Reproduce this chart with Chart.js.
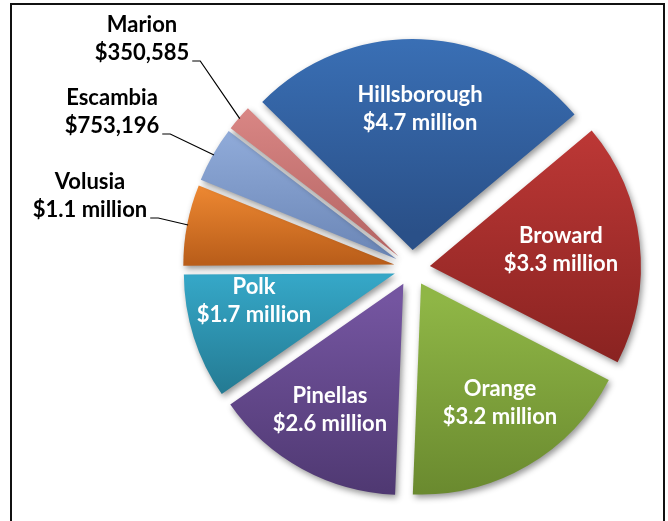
<!DOCTYPE html>
<html>
<head>
<meta charset="utf-8">
<script src="https://cdn.jsdelivr.net/npm/chart.js@4.4.1/dist/chart.umd.min.js"></script>
<style>
  html, body { margin: 0; padding: 0; background: #ffffff; }
  #wrap { width: 668px; height: 521px; position: relative; }
</style>
</head>
<body>
<div id="wrap"><canvas id="chart"></canvas></div>
<script>
// County totals (dollars)
const counties = ['Hillsborough', 'Broward', 'Orange', 'Pinellas', 'Polk', 'Volusia', 'Escambia', 'Marion'];
const amounts = [4700000, 3300000, 3200000, 2600000, 1700000, 1100000, 753196, 350585];
const amountLabels = ['$4.7 million', '$3.3 million', '$3.2 million', '$2.6 million', '$1.7 million', '$1.1 million', '$753,196', '$350,585'];

// Slice fills: lighter at the top, darker at the bottom
const topColors = ['#3b72b9', '#bd3836', '#8fb646', '#7455a0', '#35a6c6', '#f08a33', '#93aedc', '#dc8987'];
const bottomColors = ['#2a5088', '#8a2321', '#67862d', '#4c366e', '#237890', '#ba5e1a', '#6d88b8', '#b66665'];

// Pie geometry and label layout
const ROTATION = -45.5;      // degrees, start of first slice measured from 12 o'clock
const RADIUS = 211;
const EXPLODE = 18;          // px each slice is pulled away from the centre
const LABEL_FONT = 'bold 22px Lato, "Open Sans", sans-serif';
const LINE_GAP = 28;
// in-slice labels: distance from the slice tip (share of radius) and turn off the bisector (deg)
const insideDepth = [0.669, 0.626, 0.677, 0.692, 0.68];
const insideTurn = [0.7, -0.8, -3.25, 1.5, 6.5];
const calloutBlocks = { 5: [90, 182], 6: [112, 98], 7: [142, 25] }; // centre x, first line y

// Every slice is drawn shifted outward along its bisector
const ArcEl = (Chart.elements && Chart.elements.ArcElement) || Chart.ArcElement;
const baseArcDraw = ArcEl.prototype.draw;
ArcEl.prototype.draw = function (ctx) {
  const mid = (this.startAngle + this.endAngle) / 2;
  ctx.save();
  ctx.translate(Math.cos(mid) * EXPLODE, Math.sin(mid) * EXPLODE);
  baseArcDraw.call(this, ctx);
  ctx.restore();
};

const total = amounts.reduce((a, b) => a + b, 0);
function sliceAngles(i) {
  let before = 0;
  for (let k = 0; k < i; k++) before += amounts[k];
  const start = (ROTATION - 90) * Math.PI / 180 + before / total * 2 * Math.PI;
  const end = start + amounts[i] / total * 2 * Math.PI;
  return { start, end, mid: (start + end) / 2 };
}

// Vertical gradient spanning the slice's own height
function sliceFill(c) {
  const i = c.dataIndex;
  const chart = c.chart;
  const area = chart.chartArea;
  if (!area) return topColors[i];
  const cy = (area.top + area.bottom) / 2;
  const { start, end, mid } = sliceAngles(i);
  const oy = cy + Math.sin(mid) * EXPLODE;
  let minY = oy, maxY = oy;
  for (let s = 0; s <= 60; s++) {
    const a = start + (end - start) * s / 60;
    const y = oy + Math.sin(a) * RADIUS;
    minY = Math.min(minY, y);
    maxY = Math.max(maxY, y);
  }
  const g = chart.ctx.createLinearGradient(0, minY, 0, maxY);
  g.addColorStop(0, topColors[i]);
  g.addColorStop(1, bottomColors[i]);
  return g;
}

const frame = {
  id: 'frame',
  beforeDraw(chart) {
    const ctx = chart.ctx;
    ctx.save();
    ctx.fillStyle = '#ffffff';
    ctx.fillRect(0, 0, chart.width, chart.height);
    ctx.strokeStyle = '#111111';
    ctx.lineWidth = 2;
    ctx.strokeRect(11, 4, 653, 600);
    ctx.restore();
  }
};

const sliceShadow = {
  id: 'sliceShadow',
  beforeDatasetsDraw(chart) {
    const ctx = chart.ctx;
    ctx.save();
    ctx.shadowColor = 'rgba(0,0,0,0.42)';
    ctx.shadowBlur = 6;
    ctx.shadowOffsetX = 2;
    ctx.shadowOffsetY = 3;
  },
  afterDatasetsDraw(chart) {
    chart.ctx.restore();
  }
};

const sliceLabels = {
  id: 'sliceLabels',
  afterDatasetsDraw(chart) {
    const ctx = chart.ctx;
    const arcs = chart.getDatasetMeta(0).data;
    ctx.save();
    ctx.font = LABEL_FONT;
    ctx.textAlign = 'center';
    ctx.textBaseline = 'middle';
    arcs.forEach((arc, i) => {
      const mid = (arc.startAngle + arc.endAngle) / 2;
      const dx = Math.cos(mid), dy = Math.sin(mid);
      if (i < 5) {
        const tipX = arc.x + dx * EXPLODE, tipY = arc.y + dy * EXPLODE;
        const a = mid + insideTurn[i] * Math.PI / 180;
        const d = insideDepth[i] * arc.outerRadius;
        const x = tipX + Math.cos(a) * d, y = tipY + Math.sin(a) * d;
        ctx.fillStyle = '#ffffff';
        ctx.fillText(counties[i], x, y - LINE_GAP / 2);
        ctx.fillText(amountLabels[i], x, y + LINE_GAP / 2);
      } else {
        const [bx, by] = calloutBlocks[i];
        ctx.fillStyle = '#000000';
        ctx.fillText(counties[i], bx, by);
        ctx.fillText(amountLabels[i], bx, by + LINE_GAP);
        const right = bx + ctx.measureText(amountLabels[i]).width / 2;
        const ly = by + LINE_GAP + 8;
        const ex = arc.x + dx * (EXPLODE + arc.outerRadius - 1);
        const ey = arc.y + dy * (EXPLODE + arc.outerRadius - 1);
        ctx.strokeStyle = '#000000';
        ctx.lineWidth = 1.2;
        ctx.beginPath();
        ctx.moveTo(right + 3, ly);
        ctx.lineTo(right + 11, ly);
        ctx.lineTo(ex, ey);
        ctx.stroke();
      }
    });
    ctx.restore();
  }
};

new Chart(document.getElementById('chart'), {
  type: 'pie',
  data: {
    labels: counties,
    datasets: [{
      data: amounts,
      backgroundColor: sliceFill,
      borderWidth: 0,
      hoverOffset: 0,
      clip: false
    }]
  },
  options: {
    responsive: true,
    maintainAspectRatio: false,
    devicePixelRatio: 1,
    animation: false,
    events: [],
    rotation: ROTATION,
    radius: RADIUS,
    layout: { padding: { left: 170, right: 14, top: 20, bottom: 5 } },
    plugins: {
      legend: { display: false },
      tooltip: { enabled: false },
      title: { display: false }
    }
  },
  plugins: [frame, sliceShadow, sliceLabels]
});
</script>
</body>
</html>
